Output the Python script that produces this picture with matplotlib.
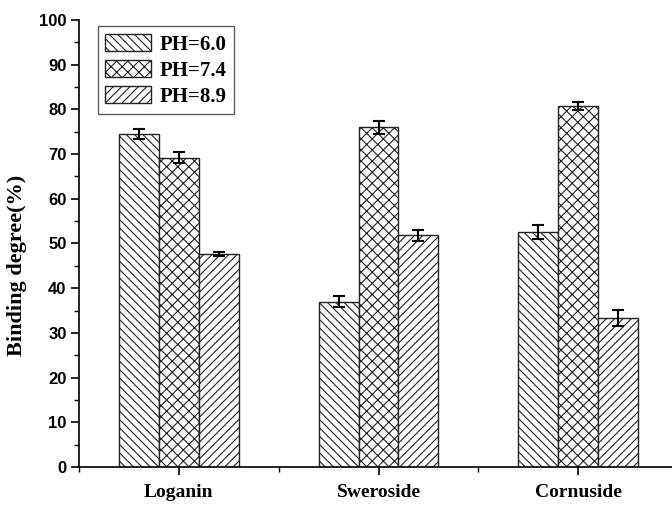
import matplotlib
matplotlib.use("Agg")
import matplotlib.pyplot as plt
import numpy as np
from matplotlib.ticker import MultipleLocator

compounds = ["Loganin", "Sweroside", "Cornuside"]
series_labels = ["PH=6.0", "PH=7.4", "PH=8.9"]
values = {
    "PH=6.0": [74.5, 37.0, 52.6],
    "PH=7.4": [69.2, 76.0, 80.7],
    "PH=8.9": [47.6, 51.8, 33.4],
}
errors = {
    "PH=6.0": [1.1, 1.3, 1.5],
    "PH=7.4": [1.3, 1.5, 0.9],
    "PH=8.9": [0.5, 1.2, 1.8],
}
hatches = ["\\\\\\\\", "xxx", "////"]

plt.rcParams["hatch.linewidth"] = 0.8
serif_bold = {"family": "Liberation Serif", "weight": "bold"}

fig = plt.figure(figsize=(6.72, 5.07), dpi=100)
ax = fig.add_axes([0.1176, 0.0789, 0.8824, 0.8817])

x = np.arange(1, len(compounds) + 1)
width = 0.2
for i, label in enumerate(series_labels):
    offset = (i - 1) * width
    ax.bar(
        x + offset,
        values[label],
        width,
        facecolor="white",
        edgecolor="#222222",
        linewidth=1.0,
        hatch=hatches[i],
        label=label,
    )
    ax.errorbar(
        x + offset,
        values[label],
        yerr=errors[label],
        fmt="none",
        ecolor="black",
        elinewidth=1.5,
        capsize=4,
        capthick=1.5,
    )

ax.set_xlim(0.5, 3.47)
ax.set_ylim(0, 100)
ax.set_xticks(x)
ax.set_xticklabels(compounds, fontdict={**serif_bold, "size": 14})
ax.xaxis.set_minor_locator(MultipleLocator(0.5))
ax.yaxis.set_major_locator(MultipleLocator(10))
ax.yaxis.set_minor_locator(MultipleLocator(5))
ax.tick_params(axis="both", which="major", direction="out", length=6, width=1.2)
ax.tick_params(axis="both", which="minor", direction="out", length=3.5, width=1.0)
ax.tick_params(axis="x", pad=6)
ax.tick_params(axis="y", pad=3)
for t in ax.get_yticklabels():
    t.set_fontweight("bold")
    t.set_fontsize(12)
    t.set_family("Liberation Sans")
ax.set_ylabel("Binding degree(%)", fontdict={**serif_bold, "size": 16})
ax.yaxis.set_label_coords(-0.087, 0.45)

ax.spines["top"].set_visible(False)
ax.spines["right"].set_visible(False)
ax.spines["left"].set_linewidth(1.2)
ax.spines["bottom"].set_linewidth(1.2)

leg = ax.legend(
    loc="upper left",
    bbox_to_anchor=(0.025, 0.995),
    prop={"family": "Liberation Serif", "weight": "bold", "size": 15},
    fancybox=False,
    edgecolor="#333333",
    handlelength=2.2,
    handleheight=0.9,
    labelspacing=0.25,
    borderpad=0.35,
    handletextpad=0.4,
    borderaxespad=0.2,
)
leg.get_frame().set_linewidth(1.0)

fig.savefig("out.png", dpi=100)
